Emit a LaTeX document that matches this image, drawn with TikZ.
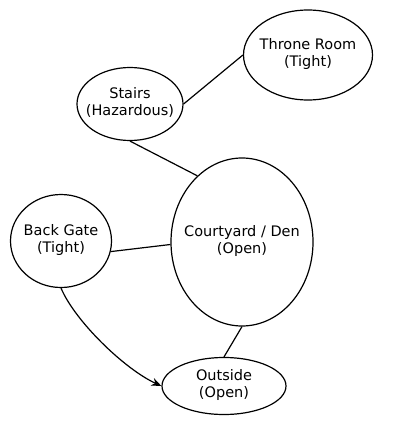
\documentclass[tikz,border=0pt]{standalone}
\usepackage{fontspec}
\setmainfont{DejaVu Sans}
\usetikzlibrary{shapes.geometric,arrows.meta}

% two-line label that does not widen the ellipse
\newcommand{\roomlabel}[2]{\makebox[0pt]{\begin{tabular}{@{}c@{}}#1\\#2\end{tabular}}}

\begin{document}
\begin{tikzpicture}[x=1pt, y=-1pt,
  room/.style={draw, ellipse, line width=1.2pt, inner sep=0pt,
    font=\fontsize{14.5}{17}\selectfont},
  link/.style={line width=1.2pt}]
\useasboundingbox (0,0) rectangle (400,428);

% Rooms
\node[room, minimum width=129, minimum height=90] (throne) at (308,55) {\roomlabel{Throne Room}{(Tight)}};
\node[room, minimum width=106, minimum height=73] (stairs) at (130,104) {\roomlabel{Stairs}{(Hazardous)}};
\node[room, minimum width=142, minimum height=168] (court) at (242,242) {\roomlabel{Courtyard / Den}{(Open)}};
\node[room, minimum width=101, minimum height=93] (gate) at (61,241) {\roomlabel{Back Gate}{(Tight)}};
\node[room, minimum width=124, minimum height=57] (outside) at (224,386) {\roomlabel{Outside}{(Open)}};

% Passages
\draw[link] (stairs.east) -- (throne.west);
\draw[link] (stairs.south) -- (court.124);
\draw[link] (gate.-12) -- (court.182);
\draw[link] (court.south) -- (outside.north);

% One-way route
\draw[link, -{Stealth[length=10pt, width=8pt]}] (gate.south) .. controls +(14,33) and +(-37,-17) .. (outside.west);

\end{tikzpicture}
\end{document}
